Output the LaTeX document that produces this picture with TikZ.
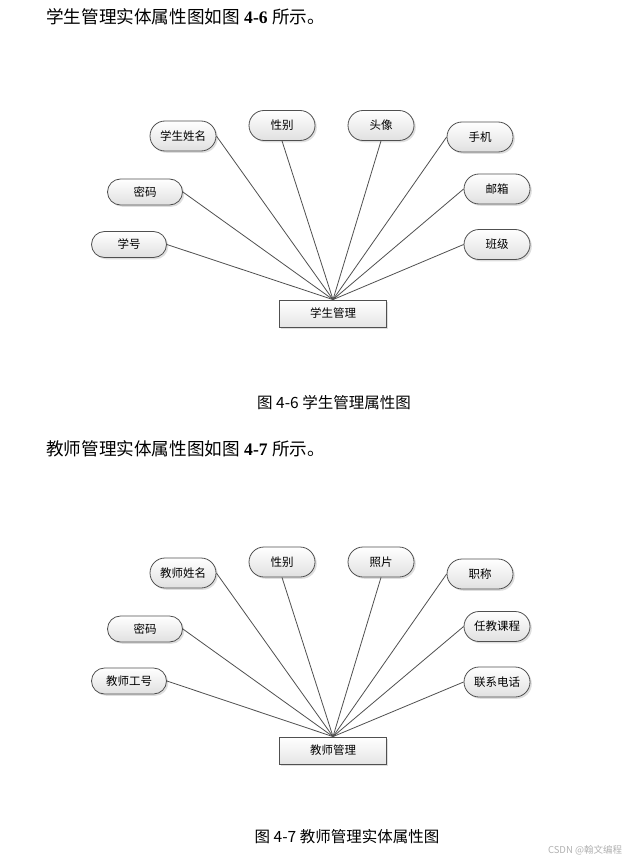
\documentclass[tikz,border=0pt]{standalone}
\usepackage{fontspec}
\setmainfont{Liberation Serif}
\newfontfamily\cjk{Noto Sans CJK SC}
\usetikzlibrary{shadows}
\definecolor{edgegray}{HTML}{505050}
\tikzset{
  attrbase/.style={draw=edgegray, line width=0.8pt, inner sep=0pt,
    top color=white, bottom color=black!12,
    drop shadow={shadow xshift=1.8pt, shadow yshift=-1.8pt, fill=black!25, opacity=0.5},
    font=\cjk\fontsize{11.5}{13}\selectfont},
  attrA/.style={attrbase, minimum width=66pt, minimum height=30pt, rounded corners=15pt},
  attrB/.style={attrbase, minimum width=75pt, minimum height=26pt, rounded corners=13pt},
  entbox/.style={draw=edgegray, line width=0.8pt, inner sep=0pt,
    minimum width=107pt, minimum height=27pt,
    top color=white, bottom color=black!10,
    drop shadow={shadow xshift=1.8pt, shadow yshift=-1.8pt, fill=black!25, opacity=0.5},
    font=\cjk\fontsize{11.5}{13}\selectfont},
  conn/.style={draw=edgegray, line width=0.8pt},
  headtext/.style={anchor=west, inner sep=0pt, font=\fontsize{17.6}{19}\selectfont},
  captext/.style={inner sep=0pt, font=\cjk\fontsize{15.5}{17}\selectfont}
}
\begin{document}
\begin{tikzpicture}[x=1pt,y=-1pt]
\useasboundingbox[fill=white] (0,0) rectangle (636,861);

% ---------- Section 1 ----------
\node[headtext] (h1) at (46,17) {{\cjk 学生管理实体属性图如图} \textbf{4-6} {\cjk 所示。}};

\node[entbox] (s0) at (333,313.5) {学生管理};
\node[attrA] (s1) at (183,136) {学生姓名};
\node[attrA] (s2) at (282,125.5) {性别};
\node[attrB] (s3) at (145,192) {密码};
\node[attrB] (s4) at (129,244.5) {学号};
\node[attrA] (s5) at (381,125.5) {头像};
\node[attrA] (s6) at (480,137) {手机};
\node[attrA] (s7) at (497,189) {邮箱};
\node[attrA] (s8) at (497,244.5) {班级};

\draw[conn] (s1.east) -- (s0.north);
\draw[conn] (s2.south) -- (s0.north);
\draw[conn] (s3.east) -- (s0.north);
\draw[conn] (s4.east) -- (s0.north);
\draw[conn] (s5.south) -- (s0.north);
\draw[conn] (s6.west) -- (s0.north);
\draw[conn] (s7.west) -- (s0.north);
\draw[conn] (s8.west) -- (s0.north);

\node[captext] (c1) at (334,403) {图 4-6 学生管理属性图};

% ---------- Section 2 ----------
\node[headtext] (h2) at (46,449) {{\cjk 教师管理实体属性图如图} \textbf{4-7} {\cjk 所示。}};

\node[entbox] (t0) at (333,750.5) {教师管理};
\node[attrA] (t1) at (183,573) {教师姓名};
\node[attrA] (t2) at (282,562) {性别};
\node[attrB] (t3) at (145,629) {密码};
\node[attrB] (t4) at (129,681) {教师工号};
\node[attrA] (t5) at (381,562) {照片};
\node[attrA] (t6) at (480,574) {职称};
\node[attrA] (t7) at (497,626.5) {任教课程};
\node[attrA] (t8) at (497,682) {联系电话};

\draw[conn] (t1.east) -- (t0.north);
\draw[conn] (t2.south) -- (t0.north);
\draw[conn] (t3.east) -- (t0.north);
\draw[conn] (t4.east) -- (t0.north);
\draw[conn] (t5.south) -- (t0.north);
\draw[conn] (t6.west) -- (t0.north);
\draw[conn] (t7.west) -- (t0.north);
\draw[conn] (t8.west) -- (t0.north);

\node[captext] (c2) at (347,837) {图 4-7 教师管理实体属性图};

\node[inner sep=0pt, text=black!30, font=\cjk\fontsize{9.5}{11}\selectfont] (wm) at (585,850) {CSDN @翰文编程};
\end{tikzpicture}
\end{document}
